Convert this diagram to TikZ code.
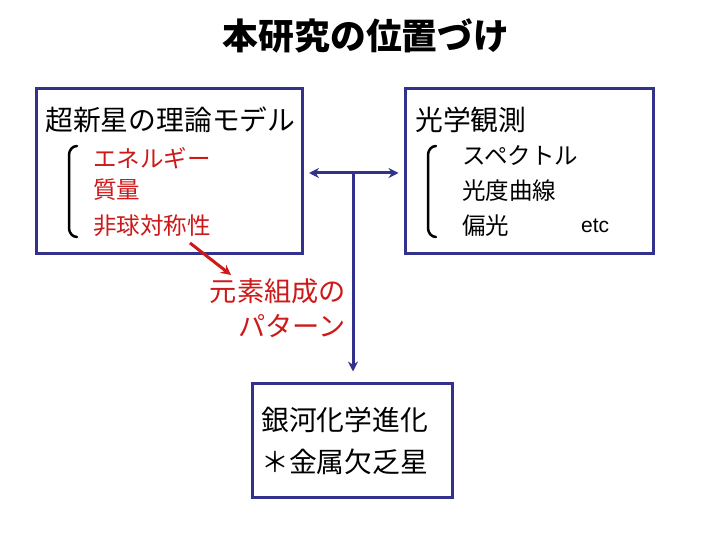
\documentclass[tikz,border=0pt]{standalone}
\usepackage{fontspec}
\setmainfont{Noto Sans CJK JP}
\newfontfamily\latinsans{Liberation Sans}
\usetikzlibrary{arrows.meta}
\definecolor{boxblue}{RGB}{50,50,140}
\definecolor{itemred}{RGB}{205,25,25}
\tikzset{
  >={Stealth[length=10pt,width=10pt]},
  frame/.style={draw=boxblue, line width=3pt, fill=white},
  head/.style={anchor=west, inner sep=0pt, font=\fontsize{27.8}{32}\selectfont},
  item/.style={anchor=west, inner sep=0pt, font=\fontsize{23.5}{27}\selectfont},
  reditem/.style={item, text=itemred},
  brack/.style={line width=2.5pt, line cap=round},
  link/.style={draw=boxblue, line width=3pt},
}
\begin{document}
\begin{tikzpicture}[x=1pt,y=-1pt]
\useasboundingbox (0,0) rectangle (720,540);
% title
\node[inner sep=0pt, font=\fontsize{35.8}{40}\selectfont\bfseries] (title) at (366,36) {本研究の位置づけ};
% boxes
\node[frame, minimum width=266pt, minimum height=164pt, inner sep=0pt] (theory) at (169.5,171) {};
\node[frame, minimum width=248pt, minimum height=164pt, inner sep=0pt] (obs) at (529,171) {};
\node[frame, minimum width=200pt, minimum height=114pt, inner sep=0pt] (chem) at (352,440) {};
% left box texts
\node[head] (th) at (45,120) {超新星の理論モデル};
\node[reditem] (t1) at (93,158) {エネルギー};
\node[reditem] (t2) at (93,190) {質量};
\node[reditem] (t3) at (93,226) {非球対称性};
\draw[brack] (77,146) to[out=180,in=90] (69,155) -- (69,228) to[out=-90,in=180] (77,237);
% right box texts
\node[head] (oh) at (415,120) {光学観測};
\node[item] (o1) at (462,156) {スペクトル};
\node[item] (o2) at (462,191) {光度曲線};
\node[item] (o3) at (462,226) {偏光};
\node[anchor=west, inner sep=0pt, font=\fontsize{21}{24}\latinsans] (etc) at (581,226) {etc};
\draw[brack] (436,146) to[out=180,in=90] (428,155) -- (428,228) to[out=-90,in=180] (436,237);
% bottom box texts
\node[head] (c1) at (261,420) {銀河化学進化};
\node[head] (c2) at (261,462) {＊金属欠乏星};
% red label
\node[anchor=east, inner sep=0pt, text=itemred, font=\fontsize{27.2}{31}\selectfont] (p1) at (346,291) {元素組成の};
\node[anchor=east, inner sep=0pt, text=itemred, font=\fontsize{27.2}{31}\selectfont] (p2) at (346,326) {パターン};
% connectors
\coordinate (ja) at (theory.east |- 0,173);
\coordinate (jb) at (obs.west |- 0,173);
\coordinate (jm) at (353,173);
\draw[link, <->, shorten <=5pt, shorten >=5pt] (ja) -- (jb);
\draw[link, ->, shorten >=10pt] (jm) -- (jm |- chem.north);
\draw[draw=itemred, line width=3pt, ->] (190,243) -- (231,275);
\end{tikzpicture}
\end{document}
